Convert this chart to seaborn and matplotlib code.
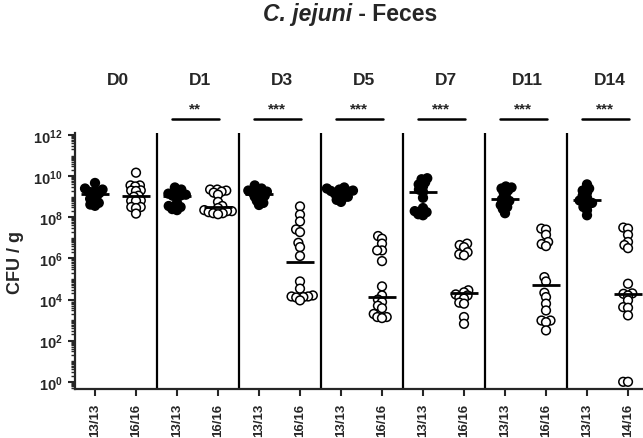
import numpy as np
import pandas as pd
import seaborn as sns
import matplotlib.pyplot as plt
import matplotlib.ticker as mticker
import matplotlib.transforms as mtransforms

# --- data (log10 CFU / g) ---
days = ["D0", "D1", "D3", "D5", "D7", "D11", "D14"]
labels_a = ["13/13", "13/13", "13/13", "13/13", "13/13", "13/13", "13/13"]
labels_b = ["16/16", "16/16", "16/16", "16/16", "16/16", "16/16", "14/16"]
stars = ["", "**", "***", "***", "***", "***", "***"]

# filled circles
a_d0 = [9.67, 9.4, 9.35, 9.3, 9.25, 9.18, 9.12, 9.0, 8.9, 8.8, 8.7, 8.62, 8.56]
a_d1 = [9.45, 9.35, 9.25, 9.15, 9.1, 9.07, 9.05, 8.95, 8.7, 8.55, 8.5, 8.4, 8.35]
a_d3 = [9.55, 9.4, 9.35, 9.3, 9.25, 9.2, 9.15, 9.05, 9.0, 8.9, 8.8, 8.7, 8.6]
a_d5 = [9.45, 9.4, 9.35, 9.3, 9.28, 9.25, 9.23, 9.15, 9.1, 9.0, 8.95, 8.85, 8.75]
a_d7 = [9.9, 9.85, 9.7, 9.6, 9.5, 9.35, 9.23, 8.95, 8.45, 8.3, 8.25, 8.15, 8.1]
a_d11 = [9.5, 9.45, 9.4, 9.3, 9.2, 9.0, 8.87, 8.8, 8.7, 8.6, 8.5, 8.4, 8.2]
a_d14 = [9.6, 9.4, 9.3, 9.2, 9.05, 8.95, 8.82, 8.75, 8.7, 8.6, 8.5, 8.35, 8.1]

# open circles
b_d0 = [10.17, 9.55, 9.55, 9.5, 9.31, 9.3, 9.28, 9.05, 9.0, 8.82, 8.8, 8.8, 8.5, 8.5, 8.45, 8.18]
b_d1 = [9.35, 9.35, 9.3, 9.25, 9.2, 9.1, 8.75, 8.55, 8.45, 8.35, 8.3, 8.3, 8.25, 8.2, 8.2, 8.15]
b_d3 = [8.53, 8.13, 7.8, 7.41, 7.28, 6.76, 6.55, 6.12, 4.88, 4.53, 4.2, 4.15, 4.15, 4.12, 4.1, 3.96]
b_d5 = [7.09, 6.96, 6.72, 6.39, 6.39, 5.87, 4.64, 4.2, 4.0, 3.88, 3.7, 3.58, 3.3, 3.15, 3.15, 3.1]
b_d7 = [6.72, 6.65, 6.55, 6.3, 6.2, 6.15, 4.45, 4.35, 4.25, 4.2, 4.1, 4.05, 3.85, 3.8, 3.15, 2.82]
b_d11 = [7.45, 7.4, 7.15, 6.8, 6.7, 6.6, 5.09, 4.88, 4.33, 4.12, 3.8, 3.47, 2.98, 2.98, 2.9, 2.5]
b_d14 = [7.5, 7.45, 7.15, 6.8, 6.65, 6.5, 4.77, 4.3, 4.28, 4.2, 3.96, 3.63, 3.6, 3.23, 0.0, 0.0]

group_a = [a_d0, a_d1, a_d3, a_d5, a_d7, a_d11, a_d14]
group_b = [b_d0, b_d1, b_d3, b_d5, b_d7, b_d11, b_d14]

# build long table
rows = []
slots = []
for i, d in enumerate(days):
    for grp, vals in (("A", group_a[i]), ("B", group_b[i])):
        slot = d + "_" + grp
        slots.append(slot)
        for v in vals:
            rows.append({"slot": slot, "grp": grp, "cfu": 10.0 ** v})
df = pd.DataFrame(rows)

# style
sns.set_style("ticks")
plt.rcParams['font.family'] = ['Liberation Sans', 'DejaVu Sans']
plt.rcParams['font.weight'] = 'bold'
plt.rcParams['mathtext.fontset'] = 'custom'
plt.rcParams['mathtext.rm'] = 'Liberation Sans:bold'
plt.rcParams['mathtext.bf'] = 'Liberation Sans:bold'

fig = plt.figure(figsize=(6.43, 4.39), dpi=100)
ax = fig.add_axes([74.5 / 643, 49 / 439, 574 / 643, 256 / 439])
ax.set_yscale('log')

ax.set_xlim(-0.5, len(slots) - 0.5)
ax.set_ylim(10 ** -0.35, 10 ** 12.1)

# swarm laid out with small markers so the points overlap like the original
sns.swarmplot(data=df, x="slot", y="cfu", hue="grp", order=slots,
              palette={"A": "black", "B": "white"}, edgecolor="black",
              linewidth=0, size=3.3, legend=False, ax=ax)
ax.set_xlim(-0.5, len(slots) - 0.5)
fig.canvas.draw()
for coll in ax.collections:
    if "draw" in coll.__dict__:
        del coll.draw          # freeze the swarm positions
    coll.set_sizes([6.3 ** 2])
    coll.set_linewidth(1.1)
    coll.set_edgecolor("black")

# medians
for k, slot in enumerate(slots):
    med = np.median(df.loc[df["slot"] == slot, "cfu"])
    ax.hlines(med, k - 0.33, k + 0.33, color="black", lw=2.0, zorder=5)

# panel separators
for i in range(1, len(days)):
    ax.axvline(2 * i - 0.5, color="black", lw=1.6, zorder=1)

# ticks
xt_labels = []
for a, b in zip(labels_a, labels_b):
    xt_labels += [a, b]
ax.set_xticks(range(len(slots)))
ax.set_xticklabels(xt_labels, rotation=90, fontsize=9.5, fontweight='bold')

major = [10.0 ** e for e in range(0, 13, 2)]
ax.yaxis.set_major_locator(mticker.FixedLocator(major))
ax.yaxis.set_major_formatter(mticker.FixedFormatter(
    [r'$\mathrm{10^{%d}}$' % e for e in range(0, 13, 2)]))
ax.yaxis.set_minor_locator(mticker.LogLocator(base=10, subs=np.arange(1, 10), numticks=100))
ax.yaxis.set_minor_formatter(mticker.NullFormatter())
ax.tick_params(axis='y', which='major', labelsize=10.5, length=5, width=1.5)
ax.tick_params(axis='y', which='minor', length=3, width=1.0)
ax.tick_params(axis='x', length=5, width=1.5, pad=5)

ax.set_xlabel("")
ax.set_ylabel("CFU / g", fontsize=13, fontweight='bold')
ax.yaxis.set_label_coords(-0.088, 0.5)

for s in ("top", "right"):
    ax.spines[s].set_visible(False)
for s in ("left", "bottom"):
    ax.spines[s].set_linewidth(1.6)

# day labels and significance bars above the axes
trans = mtransforms.blended_transform_factory(ax.transData, ax.transAxes)
for i, d in enumerate(days):
    c = 2 * i + 0.5
    ax.text(c + 0.05, 1.21, d, transform=trans, ha="center", va="center",
            fontsize=12.5, fontweight='bold')
    if stars[i]:
        ax.plot([c - 0.63, c + 0.53], [1.055, 1.055], transform=trans,
                color="black", lw=1.8, clip_on=False)
        ax.text(c - 0.05, 1.095, stars[i], transform=trans, ha="center",
                va="center", fontsize=11, fontweight='bold')

# title
fig.text(352 / 643, 1 - 21 / 439, "C. jejuni", ha="right", va="baseline",
         fontsize=16.5, fontweight='bold', style='italic')
fig.text(352 / 643, 1 - 21 / 439, " - Feces", ha="left", va="baseline",
         fontsize=16.5, fontweight='bold')

fig.savefig("out.png", dpi=100)
